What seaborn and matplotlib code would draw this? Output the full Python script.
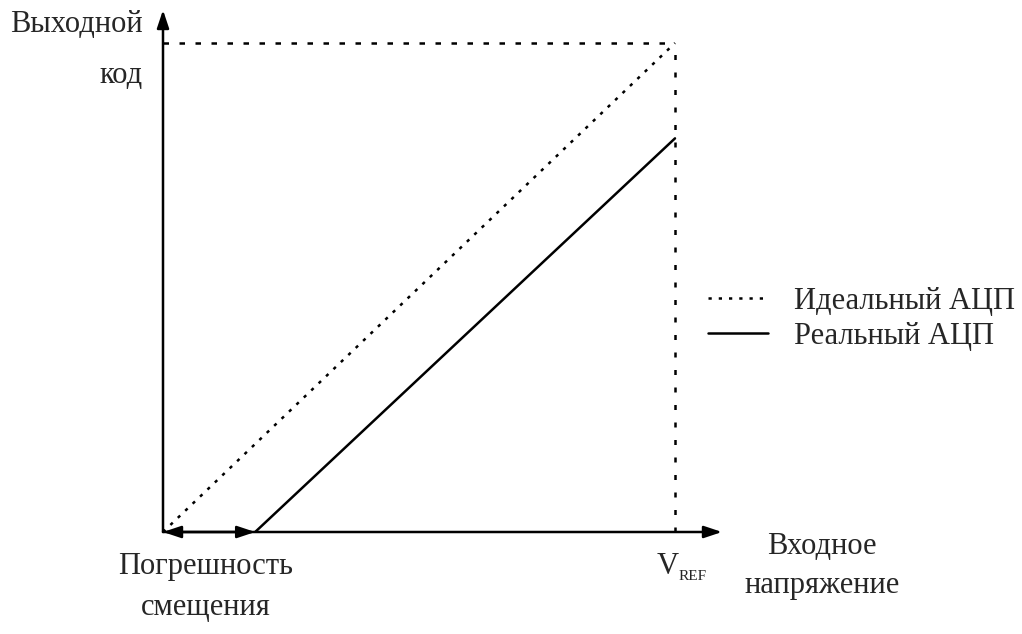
import matplotlib
matplotlib.use("Agg")
import matplotlib.pyplot as plt
import seaborn as sns
import pandas as pd

sns.set_theme(style="white")
plt.rcParams["font.family"] = ["Liberation Serif", "DejaVu Serif"]

# Transfer characteristics (input normalised to V_REF, output to full scale)
series_names = ["Идеальный АЦП", "Реальный АЦП"]
ideal_x = [0.0, 1.0]
ideal_y = [0.0, 1.0]
offset_error = 0.18
real_x = [offset_error, 1.0]
real_y = [0.0, 0.805]
vref = 1.0
full_scale = 1.0

df = pd.DataFrame({
    "x": ideal_x + real_x,
    "y": ideal_y + real_y,
    "series": [series_names[0]] * 2 + [series_names[1]] * 2,
})

W, H = 1022, 634
fig = plt.figure(figsize=(W / 100, H / 100), dpi=100)
x0, y0 = 163, 532
x_end, y_top = 722, 10
ax = fig.add_axes([x0 / W, (H - y0) / H, (x_end - x0) / W, (y0 - y_top) / H])
xmax = (x_end - x0) / 512
ymax = (y0 - y_top) / 489
ax.set_xlim(0, xmax)
ax.set_ylim(0, ymax)
ax.axis("off")

lw = 1.8
sns.lineplot(data=df, x="x", y="y", style="series", ax=ax, color="black",
             linewidth=lw, dashes={series_names[0]: (1.3, 2.8), series_names[1]: ""},
             legend=True, estimator=None, sort=False)

# Reference guides at V_REF and full-scale code
ax.plot([0, vref], [full_scale, full_scale], color="black", lw=lw,
        dashes=(2.2, 4.2), clip_on=False)
ax.plot([vref, vref], [0, full_scale], color="black", lw=lw,
        dashes=(2.0, 5.0), clip_on=False)

# Axes with arrowheads
arrow = dict(arrowstyle="-|>,head_length=0.9,head_width=0.3", color="black",
             lw=1.8, shrinkA=0, shrinkB=0)
ax.annotate("", xy=(xmax, 0), xytext=(0, 0), arrowprops=arrow, annotation_clip=False)
ax.annotate("", xy=(0, ymax), xytext=(0, 0), arrowprops=arrow, annotation_clip=False)
# Offset error span
darrow = dict(arrowstyle="<|-|>,head_length=0.9,head_width=0.3", color="black",
              lw=1.8, shrinkA=0, shrinkB=0)
ax.annotate("", xy=(offset_error, 0), xytext=(0, 0), arrowprops=darrow,
            annotation_clip=False)

fs = 22
fig.text(143 / W, 1 - 50 / H, "Выходной\nкод", ha="right", va="center",
         multialignment="right", fontsize=fs, linespacing=2.0)
fig.text(206 / W, 1 - 587 / H, "Погрешность\nсмещения", ha="center", va="center",
         multialignment="center", fontsize=fs, linespacing=1.55)
fig.text(822 / W, 1 - 566 / H, "Входное\nнапряжение", ha="center", va="center",
         multialignment="center", fontsize=fs, linespacing=1.48)
fig.text(668 / W, 1 - 567 / H, "V", ha="center", va="center", fontsize=fs)
fig.text(693 / W, 1 - 577 / H, "REF", ha="center", va="center", fontsize=11)

handles, labels = ax.get_legend_handles_labels()
leg = ax.legend(handles, labels, loc="center left", frameon=False,
                bbox_to_anchor=(708 / W, 1 - 319 / H), bbox_transform=fig.transFigure,
                fontsize=fs, handlelength=1.95, handletextpad=0.85, labelspacing=0.2,
                borderpad=0, borderaxespad=0)
for h in leg.get_lines():
    h.set_linewidth(lw)

fig.savefig("out.png", dpi=100, facecolor="white")
